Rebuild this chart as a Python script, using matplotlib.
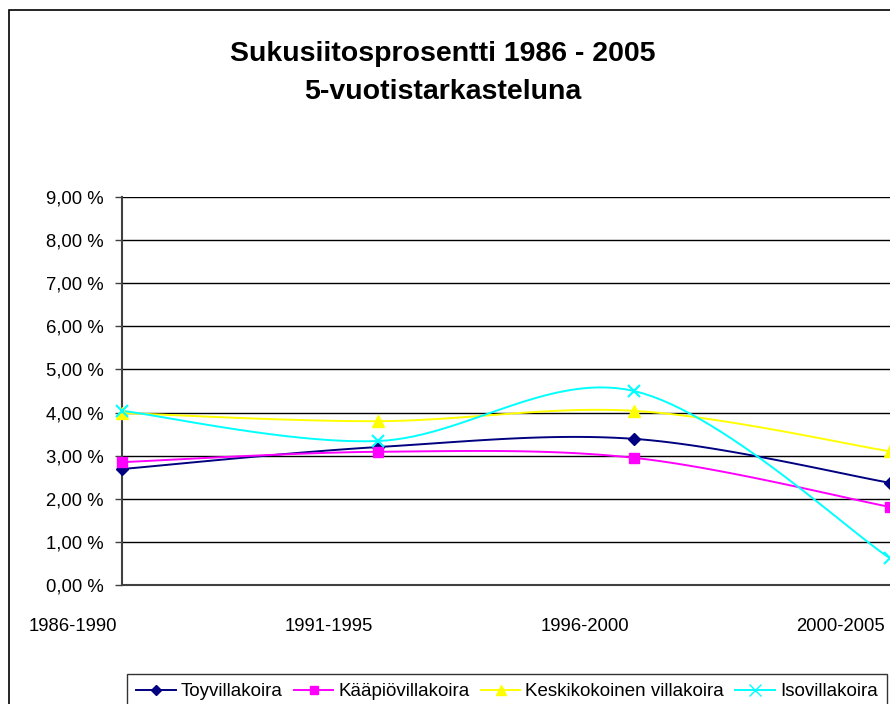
import matplotlib.pyplot as plt
import numpy as np
from matplotlib.patches import Rectangle
from matplotlib.ticker import FuncFormatter
from matplotlib.transforms import ScaledTranslation

periods = ["1986-1990", "1991-1995", "1996-2000", "2000-2005"]
toy = [2.69, 3.20, 3.39, 2.37]
kaapio = [2.85, 3.09, 2.95, 1.81]
keski = [3.99, 3.80, 4.04, 3.10]
iso = [4.04, 3.34, 4.50, 0.62]

series_names = ["Toyvillakoira", "Kääpiövillakoira", "Keskikokoinen villakoira", "Isovillakoira"]
series_values = [toy, kaapio, keski, iso]
colors = ["#000080", "#FF00FF", "#FFFF00", "#00FFFF"]
markers = ["D", "s", "^", "x"]
marker_sizes = [6, 7, 8, 9]

plt.rcParams["font.family"] = ["Liberation Sans", "DejaVu Sans"]


def smooth(x, y, steps=30):
    # Catmull-Rom style curve through the points, like Excel's smoothed line
    x = np.asarray(x, dtype=float)
    y = np.asarray(y, dtype=float)
    px = np.concatenate([[x[0]], x, [x[-1]]])
    py = np.concatenate([[y[0]], y, [y[-1]]])
    out_x, out_y = [], []
    t = np.linspace(0, 1, steps)
    for i in range(1, len(px) - 2):
        p0 = np.array([px[i], py[i]])
        p3 = np.array([px[i + 1], py[i + 1]])
        p1 = p0 + (np.array([px[i + 1], py[i + 1]]) - np.array([px[i - 1], py[i - 1]])) / 6
        p2 = p3 - (np.array([px[i + 2], py[i + 2]]) - np.array([px[i], py[i]])) / 6
        b = ((1 - t) ** 3)[:, None] * p0 + (3 * (1 - t) ** 2 * t)[:, None] * p1 \
            + (3 * (1 - t) * t ** 2)[:, None] * p2 + (t ** 3)[:, None] * p3
        out_x.extend(b[:, 0])
        out_y.extend(b[:, 1])
    return np.array(out_x), np.array(out_y)


fig = plt.figure(figsize=(8.9, 7.04), dpi=100)
fig.patches.append(Rectangle((9 / 890, -0.1), 1.2, 1 - 10 / 704 + 0.1,
                             transform=fig.transFigure, fill=False,
                             edgecolor="black", linewidth=1.2))

ax = fig.add_axes([122 / 890, 1 - 585 / 704, 768 / 890, (585 - 197) / 704])
x = np.arange(len(periods))

for name, values, color, marker, ms in zip(series_names, series_values, colors, markers, marker_sizes):
    sx, sy = smooth(x, values)
    ax.plot(sx, sy, color=color, linewidth=1.4, clip_on=False, zorder=3)
    ax.plot(x, values, linestyle="none", marker=marker, color=color,
            markersize=ms, markeredgewidth=1.5 if marker == "x" else 1,
            clip_on=False, zorder=4)
    ax.plot([], [], color=color, linewidth=1.4, marker=marker, markersize=ms - 1,
            label=name)

ax.set_xlim(0, 3)
ax.set_ylim(0, 9)
ax.set_yticks(np.arange(0, 10, 1))
ax.yaxis.set_major_formatter(FuncFormatter(lambda v, p: f"{v:.2f}".replace(".", ",") + " %"))
ax.set_xticks(x)
ax.set_xticklabels(periods, ha="right")
ax.tick_params(axis="x", length=0, pad=24, labelsize=13.3)
ax.tick_params(axis="y", length=5, width=1, color="#404040", pad=8, labelsize=13.3)
shift = ScaledTranslation(-5 / 100, 0, fig.dpi_scale_trans)
for lbl in ax.get_xticklabels():
    lbl.set_transform(lbl.get_transform() + shift)
ax.grid(axis="y", color="black", linewidth=1)
ax.set_axisbelow(True)
for side in ["top", "right"]:
    ax.spines[side].set_visible(False)
ax.spines["left"].set_color("#404040")
ax.spines["bottom"].set_color("#404040")
ax.spines["left"].set_linewidth(1.5)
ax.spines["bottom"].set_linewidth(1.5)

fig.text(443 / 890, 1 - 54 / 704, "Sukusiitosprosentti 1986 - 2005", ha="center",
         va="center", fontsize=20.5, fontweight="bold")
fig.text(443 / 890, 1 - 92 / 704, "5-vuotistarkasteluna", ha="center",
         va="center", fontsize=20.5, fontweight="bold")

leg = fig.legend(loc="upper left", bbox_to_anchor=(127 / 890, 1 - 674 / 704), ncol=4,
                 fontsize=13.5, frameon=True, fancybox=False, handlelength=2.1,
                 handletextpad=0.27, columnspacing=0.6, borderpad=0.5,
                 borderaxespad=0)
leg.get_frame().set_edgecolor("black")
leg.get_frame().set_linewidth(1)

fig.savefig("out.png", dpi=100)
